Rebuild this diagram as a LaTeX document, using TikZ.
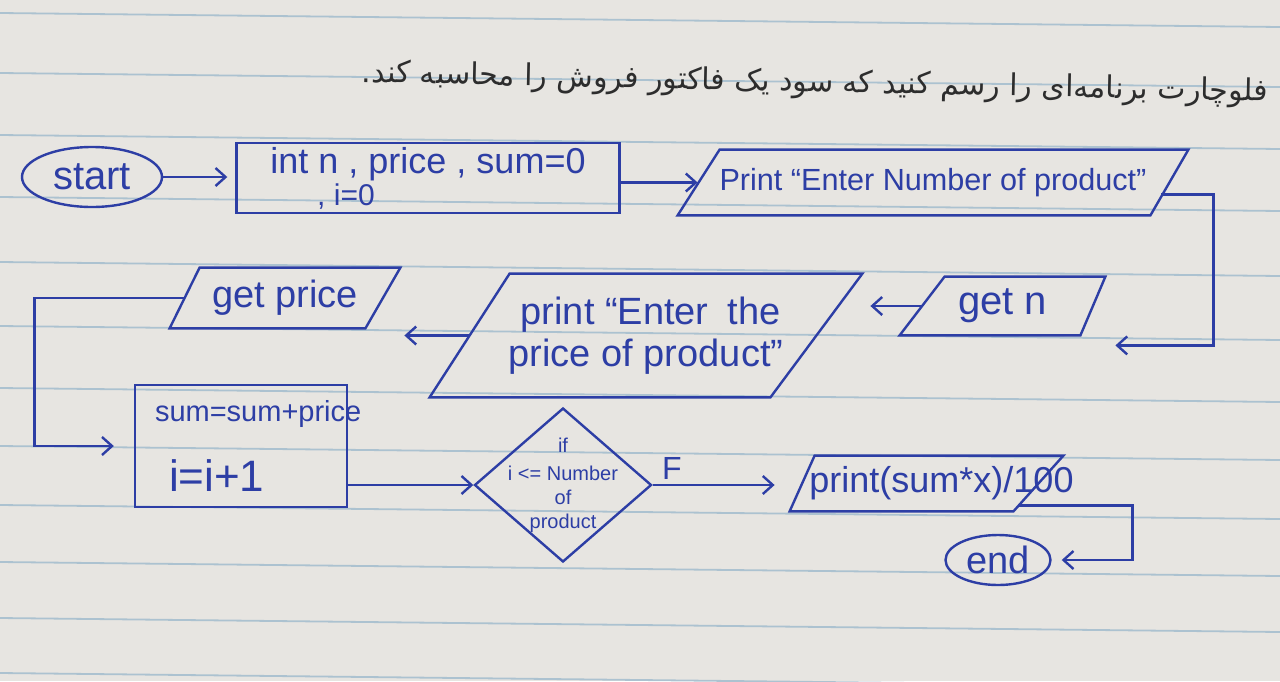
\documentclass[tikz,border=0pt]{standalone}
\usepackage{fontspec}
\setmainfont{Liberation Sans}
\newfontfamily\persianfont[Script=Arabic]{DejaVu Sans}
\TeXXeTstate=1
\usetikzlibrary{shapes.geometric}
\usetikzlibrary{arrows.meta}
\usetikzlibrary{calc}

\definecolor{ink}{RGB}{45,62,165}
\definecolor{paper}{RGB}{231,229,225}
\definecolor{rule}{RGB}{172,194,208}
\definecolor{pencil}{RGB}{45,45,45}

% slanted input/output box round a node: name, left offset, right offset
\newcommand{\slantbox}[3]{%
  \draw[flow] ([shift={(#2,0)}]#1.north west) -- (#1.north east)
    -- ([shift={(-#3,0)}]#1.south east) -- (#1.south west) -- cycle;}

\begin{document}
\begin{tikzpicture}[x=0.5pt, y=-0.5pt, >={Straight Barb[length=5pt,width=9pt]},
  every node/.style={text=ink, font=\fontsize{16}{18}\selectfont},
  flow/.style={draw=ink, line width=1.2pt},
  term/.style={ellipse, draw=ink, line width=1.2pt, inner sep=0pt},
  proc/.style={rectangle, draw=ink, line width=1.2pt, inner sep=0pt},
  io/.style={rectangle, inner sep=0pt},
  test/.style={diamond, draw=ink, line width=1.2pt, inner sep=0pt}]

%%%%%%%%%%%% paper
  \useasboundingbox (0,0) rectangle (1280,681);
  \fill[paper] (0,0) rectangle (1280,681);
  \foreach \y in {13,73,135,197,262,326,388,446,505,562,618,673} {
    \draw[rule, line width=0.9pt] (0,\y) -- (1280,\y+14);
  }

  \node[text=pencil, rotate=-1.2, font=\persianfont\fontsize{15}{17}\selectfont] (title) at (815,84)
    {\beginR فلوچارت برنامه‌ای را رسم کنید که سود یک فاکتور فروش را محاسبه کند.\endR};

%%%%%%%%%%%% top row
  \node[term, minimum width=70pt, minimum height=30pt, font=\fontsize{20}{22}\selectfont] (start) at (92,177) {start};
  \node[proc, minimum width=191.5pt, minimum height=35pt, align=left, font=\fontsize{18}{15}\selectfont] (init) at (428,178)
    {int n , price , sum=0\\[1pt]\hspace*{1.3em}{\fontsize{15}{15}\selectfont , i=0}};
  \node[io, minimum width=255pt, minimum height=32.5pt, font=\fontsize{15.3}{17}\selectfont] (askn) at (933,182.5)
    {Print “Enter Number of product”};
  \slantbox{askn}{42}{38}

  \draw[flow,->, shorten >=4pt] (start.east) -- (start.east -| init.west);
  \draw[flow,->] (init.east |- askn.west) -- ([xshift=10pt]askn.west);

%%%%%%%%%%%% middle row
  \node[io, minimum width=102.5pt, minimum height=29pt, font=\fontsize{20}{22}\selectfont] (getn) at (1002.5,306) {get n};
  \slantbox{getn}{45}{25}
  \node[io, minimum width=216pt, minimum height=61.5pt, align=left, font=\fontsize{19}{21}\selectfont] (askprice) at (646,335.5)
    {\hspace*{6pt}print “Enter\enspace the\\price of product”};
  \slantbox{askprice}{80}{92}
  \node[io, minimum width=115pt, minimum height=30pt, font=\fontsize{19}{21}\selectfont] (getprice) at (285,298) {get price};
  \slantbox{getprice}{30}{35}

  \draw[flow,->] ([shift={(-27,12)}]askn.east) -- ++(52,0) |- ([shift={(10,10)}]getn.south east);
  \draw[flow,->] ([xshift=11pt]getn.west) -- ([xshift=4pt]getn.west -| askprice.east);
  \draw[flow,->] ([xshift=20pt]askprice.west) -- ([xshift=2pt]askprice.west -| getprice.east);

%%%%%%%%%%%% bottom row
  \node[proc, minimum width=106pt, minimum height=61pt, align=left, text width=100pt, font=\fontsize{14.5}{17}\selectfont] (update) at (241,446)
    {\hspace*{7pt}sum=sum+price\\[15pt]\hspace*{14pt}{\fontsize{22}{24}\selectfont i=i+1}};
  \node[test, minimum width=88.5pt, minimum height=77pt,
    label={[align=center, font=\fontsize{10}{12}\selectfont]center:if\\[2pt]i <= Number\\of\\product}] (cond) at (563,485) {};
  \node[io, minimum width=136.5pt, minimum height=27.5pt, font=\fontsize{18}{20}\selectfont] (result) at (926.5,483.5)
    {\makebox[0pt]{\hspace*{15pt}print(sum*x)/100}};
  \slantbox{result}{25}{50}
  \node[term, minimum width=52.5pt, minimum height=25pt, font=\fontsize{19}{21}\selectfont] (end) at (998,560) {end};

  \draw[flow,->, shorten >=10pt] ([xshift=7.5pt]getprice.west) -- ++(-150,0) |- (update.west);
  \draw[flow,->] (update.east |- cond.west) -- (cond.west);
  \draw[flow,->, shorten >=7.5pt] (cond.east) -- node[above, pos=0.14, inner sep=2pt] {F} (cond.east -| result.west);
  \draw[flow,->, shorten >=5pt] ([shift={(-45,-6)}]result.south east) -- ++(114,0) |- (end.east);

\end{tikzpicture}
\end{document}
